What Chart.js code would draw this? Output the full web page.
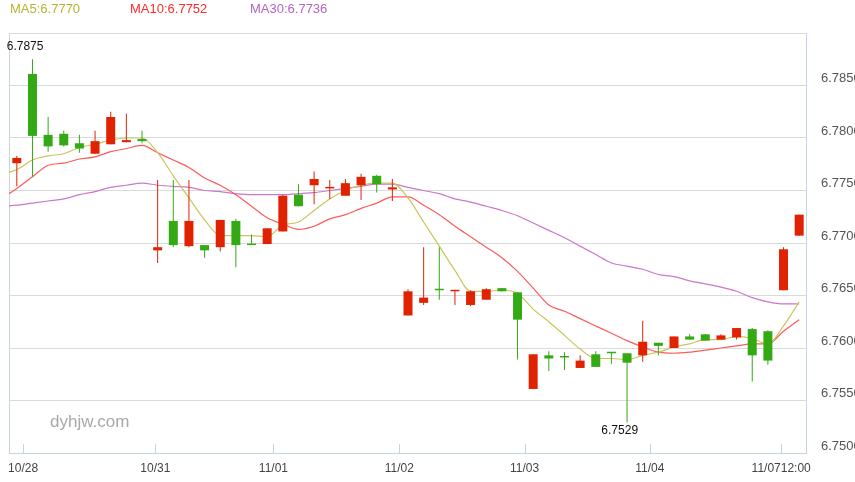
<!DOCTYPE html>
<html>
<head>
<meta charset="utf-8">
<script src="https://cdn.jsdelivr.net/npm/chart.js"></script>
<style>
  html, body { margin: 0; padding: 0; background: #ffffff; }
  #wrap { position: relative; width: 855px; height: 482px; overflow: hidden; font-family: "Liberation Sans", Arial, sans-serif; }
  #c { position: absolute; left: 0; top: 0; }
  .lg { position: absolute; top: 1px; font-size: 13px; line-height: 16px; white-space: nowrap; }
  #wm { position: absolute; left: 50px; top: 412px; font-size: 17px; color: #a8a8a8; line-height: 20px; }
</style>
</head>
<body>
<div id="wrap">
  <canvas id="c" width="855" height="482"></canvas>
  <span class="lg" id="lg5" style="left:10px;color:#b8b430"></span>
  <span class="lg" id="lg10" style="left:130px;color:#ff2a2a"></span>
  <span class="lg" id="lg30" style="left:250px;color:#b466c4"></span>
  <div id="wm">dyhjw.com</div>
</div>
<script>
// ---- data ----
const candleOpen  = [6.7776,6.7861,6.7803,6.7804,6.7795,6.7785,6.7794,6.7796,6.7799,6.7693,
                     6.7721,6.7697,6.7698,6.7696,6.7721,6.7699,6.7699,6.7711,6.7746,6.7755,
                     6.7752,6.7745,6.7755,6.7764,6.7751,6.7631,6.7643,6.7656,6.7654,6.7641,
                     6.7646,6.7657,6.7653,6.7561,6.7593,6.7592,6.7581,6.7594,6.7596,6.7595,
                     6.7593,6.7605,6.7600,6.7611,6.7613,6.7608,6.7610,6.7618,6.7616,6.7655,
                     6.7707];
const candleHigh  = [6.7783,6.7875,6.7820,6.7807,6.7803,6.7807,6.7825,6.7823,6.7807,6.7760,
                     6.7760,6.7760,6.7698,6.7722,6.7723,6.7708,6.7714,6.7746,6.7756,6.7768,
                     6.7760,6.7761,6.7766,6.7765,6.7761,6.7656,6.7696,6.7696,6.7655,6.7655,
                     6.7657,6.7657,6.7653,6.7594,6.7597,6.7596,6.7593,6.7597,6.7596,6.7595,
                     6.7626,6.7605,6.7611,6.7613,6.7613,6.7613,6.7619,6.7619,6.7617,6.7696,
                     6.7727];
const candleLow   = [6.7754,6.7763,6.7787,6.7792,6.7786,6.7785,6.7794,6.7796,6.7795,6.7681,
                     6.7696,6.7696,6.7686,6.7692,6.7677,6.7698,6.7699,6.7711,6.7735,6.7737,
                     6.7742,6.7745,6.7741,6.7748,6.7740,6.7631,6.7641,6.7646,6.7641,6.7640,
                     6.7646,6.7654,6.7589,6.7561,6.7578,6.7579,6.7581,6.7582,6.7585,6.7529,
                     6.7587,6.7593,6.7600,6.7608,6.7607,6.7608,6.7608,6.7568,6.7584,6.7655,
                     6.7707];
const candleClose = [6.7781,6.7802,6.7792,6.7793,6.7790,6.7797,6.7820,6.7798,6.7797,6.7696,
                     6.7698,6.7721,6.7693,6.7722,6.7698,6.7698,6.7714,6.7745,6.7735,6.7761,
                     6.7753,6.7757,6.7763,6.7756,6.7753,6.7654,6.7648,6.7655,6.7655,6.7654,
                     6.7656,6.7654,6.7627,6.7594,6.7590,6.7591,6.7588,6.7582,6.7595,6.7586,
                     6.7606,6.7602,6.7611,6.7608,6.7607,6.7612,6.7619,6.7593,6.7588,6.7694,
                     6.7727];
// moving averages: first value belongs to the candle just before the visible window
const ma5  = [6.7765,6.7770,6.7779,6.7783,6.7785,6.7791,6.7794,6.7798,6.7800,6.7800,6.7786,
              6.7764,6.7743,6.7722,6.7707,6.7707,6.7707,6.7706,6.7717,6.7720,6.7731,
              6.7742,6.7750,6.7755,6.7757,6.7757,6.7743,6.7720,6.7697,6.7674,6.7654,
              6.7654,6.7655,6.7652,6.7637,6.7625,6.7612,6.7599,6.7590,6.7590,6.7589,
              6.7593,6.7596,6.7601,6.7604,6.7608,6.7608,6.7611,6.7609,6.7604,6.7621,
              6.7644];
const ma10 = [6.7742,6.7752,6.7763,6.7774,6.7776,6.7780,6.7782,6.7787,6.7790,6.7793,6.7786,
              6.7779,6.7772,6.7762,6.7755,6.7746,6.7735,6.7724,6.7718,6.7713,6.7716,
              6.7723,6.7727,6.7733,6.7738,6.7744,6.7744,6.7736,6.7727,6.7716,6.7706,
              6.7696,6.7686,6.7673,6.7657,6.7641,6.7635,6.7628,6.7621,6.7614,6.7607,
              6.7601,6.7596,6.7595,6.7596,6.7598,6.7600,6.7602,6.7604,6.7604,6.7616,
              6.7627];
const ma30 = [6.7735,6.7736,6.7738,6.7740,6.7742,6.7746,6.7749,6.7753,6.7755,6.7757,6.7755,
              6.7754,6.7753,6.7750,6.7749,6.7747,6.7746,6.7746,6.7746,6.7747,6.7748,
              6.7750,6.7752,6.7754,6.7756,6.7756,6.7753,6.7750,6.7747,6.7742,6.7739,
              6.7735,6.7731,6.7726,6.7719,6.7712,6.7705,6.7697,6.7689,6.7681,6.7678,
              6.7675,6.7670,6.7668,6.7664,6.7661,6.7658,6.7654,6.7648,6.7644,6.7642,
              6.7642];
// day-boundary ticks (in candle index units) and their labels
const xTickAt     = [0.4, 8.85, 16.4, 24.45, 32.45, 40.45, 48.85];
const xTickLabels = ['10/28', '10/31', '11/01', '11/02', '11/03', '11/04', '11/0712:00'];
const yMin = 6.75, yMax = 6.79, yStep = 0.005;

// ---- legend text (real DOM text) ----
document.getElementById('lg5').textContent  = 'MA5:'  + ma5[1].toFixed(4);
document.getElementById('lg10').textContent = 'MA10:' + ma10[1].toFixed(4);
document.getElementById('lg30').textContent = 'MA30:' + ma30[1].toFixed(4);

const UP = '#e02200', DOWN = '#33a914';
const idx = candleOpen.map((_, i) => i);
const bodies = idx.map(i => ({ x: i, y: [candleOpen[i], candleClose[i]] }));
const wicks  = idx.map(i => ({ x: i, y: [candleLow[i], candleHigh[i]] }));
const maPts = arr => arr.map((v, i) => ({ x: i - 1, y: v }));
const candleColor = ctx => (candleClose[ctx.dataIndex] >= candleOpen[ctx.dataIndex] ? UP : DOWN);

const framePlugin = {
  id: 'frame',
  beforeDatasetsDraw(chart) {
    const { ctx, chartArea: a } = chart;
    ctx.save();
    ctx.strokeStyle = '#c6d3e0';
    ctx.lineWidth = 1;
    ctx.beginPath();
    ctx.moveTo(a.left + 0.5, a.top);
    ctx.lineTo(a.left + 0.5, a.bottom + 0.5);
    ctx.lineTo(a.right - 0.5, a.bottom + 0.5);
    ctx.lineTo(a.right - 0.5, a.top);
    ctx.stroke();
    // short day ticks rising from the bottom edge
    const xs = chart.scales.x;
    xs.ticks.forEach(t => {
      const px = Math.round(xs.getPixelForValue(t.value)) + 0.5;
      ctx.beginPath();
      ctx.moveTo(px, a.bottom);
      ctx.lineTo(px, a.bottom - 9);
      ctx.stroke();
    });
    ctx.restore();
  },
  afterDatasetsDraw(chart) {
    const { ctx } = chart;
    const xs = chart.scales.x, ys = chart.scales.y;
    let hi = 0, lo = 0;
    candleHigh.forEach((v, i) => { if (v > candleHigh[hi]) hi = i; });
    candleLow.forEach((v, i) => { if (v < candleLow[lo]) lo = i; });
    ctx.save();
    ctx.fillStyle = '#111111';
    ctx.font = '12px "Liberation Sans", Arial, sans-serif';
    ctx.textAlign = 'right';
    ctx.textBaseline = 'bottom';
    ctx.fillText(candleHigh[hi].toFixed(4), xs.getPixelForValue(hi) + 11, ys.getPixelForValue(candleHigh[hi]) - 7);
    ctx.textBaseline = 'top';
    ctx.fillText(candleLow[lo].toFixed(4), xs.getPixelForValue(lo) + 11, ys.getPixelForValue(candleLow[lo]) + 2);
    ctx.restore();
  }
};

new Chart(document.getElementById('c'), {
  type: 'bar',
  data: {
    datasets: [
      { type: 'line', data: maPts(ma5),  borderColor: '#cac55e', borderWidth: 1.2, pointRadius: 0, cubicInterpolationMode: 'monotone', order: 3 },
      { type: 'line', data: maPts(ma10), borderColor: '#ff5a5a', borderWidth: 1.2, pointRadius: 0, cubicInterpolationMode: 'monotone', order: 3 },
      { type: 'line', data: maPts(ma30), borderColor: '#cc77cc', borderWidth: 1.2, pointRadius: 0, cubicInterpolationMode: 'monotone', order: 3 },
      { data: wicks,  backgroundColor: candleColor, barThickness: 1, grouped: false, borderWidth: 0, inflateAmount: 0, order: 2 },
      { data: bodies, backgroundColor: candleColor, barThickness: 9, grouped: false, borderWidth: 0, inflateAmount: 0, minBarLength: 1.5, order: 1 }
    ]
  },
  options: {
    responsive: false,
    animation: false,
    devicePixelRatio: 1,
    events: [],
    layout: { padding: { left: 9, top: 33, right: 0, bottom: 0 } },
    plugins: { legend: { display: false }, tooltip: { enabled: false } },
    scales: {
      x: {
        type: 'linear',
        min: -0.5,
        max: candleOpen.length - 0.5,
        offset: false,
        grid: { display: false },
        border: { display: false },
        afterBuildTicks(scale) { scale.ticks = xTickAt.map(v => ({ value: v })); },
        afterFit(scale) { scale.height = 29; },
        ticks: {
          autoSkip: false,
          maxRotation: 0,
          padding: 0,
          color: '#444444',
          font: { family: '"Liberation Sans", Arial, sans-serif', size: 12 },
          callback: (v, i) => xTickLabels[i]
        }
      },
      y: {
        type: 'linear',
        position: 'right',
        min: yMin,
        max: yMax,
        beginAtZero: false,
        grid: { color: '#dadada', lineWidth: 1, drawTicks: false },
        border: { display: false },
        afterFit(scale) { scale.width = 48; },
        ticks: {
          stepSize: yStep,
          padding: 14,
          labelOffset: -7,
          color: '#555555',
          font: { family: '"Liberation Sans", Arial, sans-serif', size: 13 },
          callback: v => (v > yMax - yStep / 2 ? '' : Number(v).toFixed(4))
        }
      }
    }
  },
  plugins: [framePlugin]
});
</script>
</body>
</html>
